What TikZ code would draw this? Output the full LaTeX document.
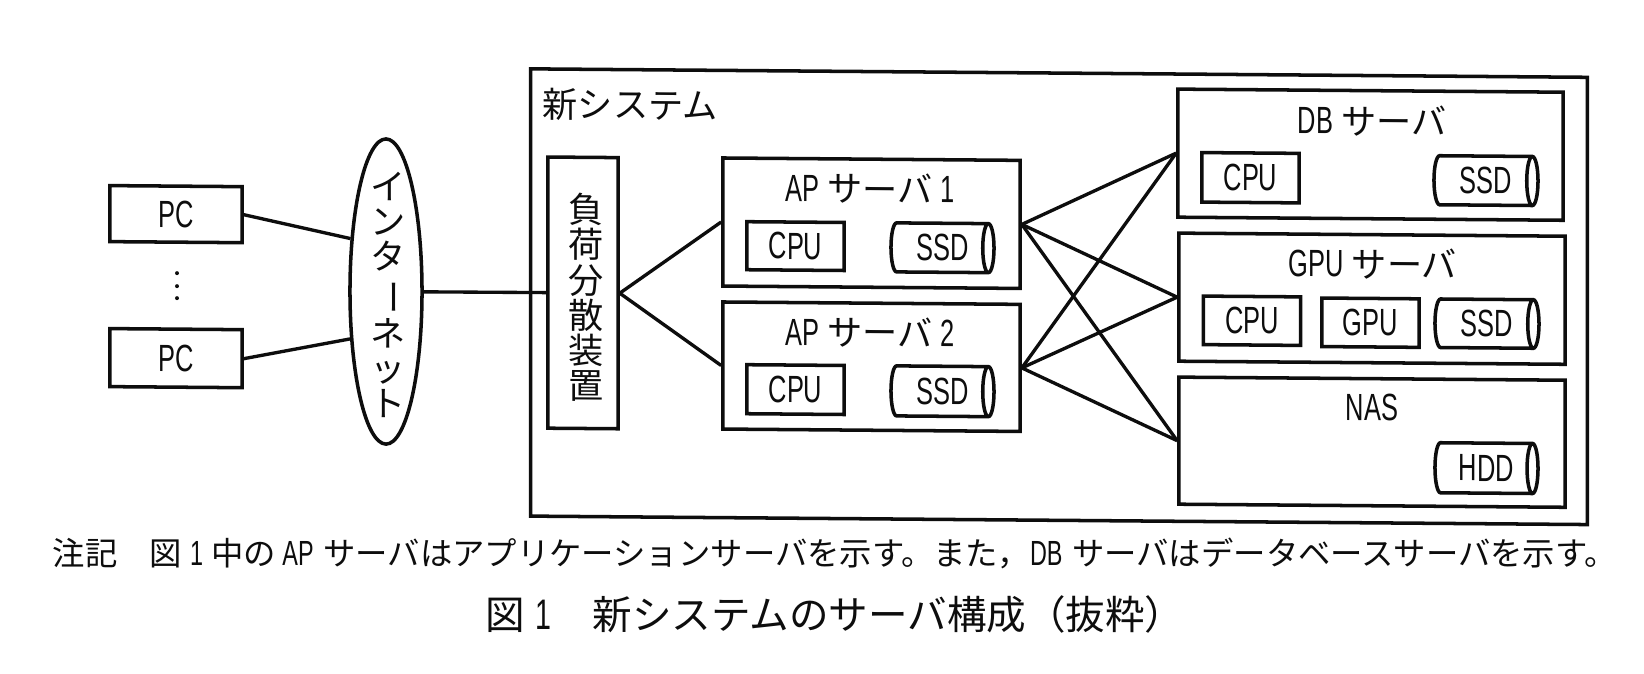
\documentclass[tikz,border=0pt]{standalone}
\usepackage{fontspec}
\usepackage{graphicx}
\usetikzlibrary{shapes.geometric}
\setmainfont{Noto Sans CJK JP}
\newfontfamily\latn[FakeStretch=0.67,Scale=1.08]{Liberation Sans}
\newcommand{\ltn}[1]{{\latn #1}}
\newcommand{\longbar}{\rotatebox[origin=c]{-90}{ー}}
\definecolor{ink}{gray}{0.05}
\tikzset{
  every node/.append style={transform shape,text=ink,inner sep=0pt},
  body/.style={font=\fontsize{10}{10}\selectfont},
  box/.style={rectangle,draw=ink,line width=1pt,body},
  store/.style={cylinder,draw=ink,line width=1pt,body,shape aspect=0.42,anchor=shape center,execute at begin node=\hspace*{2pt}},
  link/.style={draw=ink,line width=0.95pt},
  vtext/.style={body,align=center},
  ptdot/.style={circle,fill=ink,minimum size=0.04cm},
}
\begin{document}
\begin{tikzpicture}[x=0.01cm,y=-0.01cm]
\fill[white] (0,0) rectangle (1644,674);
\useasboundingbox (0,0) rectangle (1644,674);
\begin{scope}[shift={(0,-4.248)},cm={1,-0.008,0,1,(0,0)}]
\node[box,minimum width=10.56cm,minimum height=4.47cm] (sys) at (1059,292.5) {};
\node[body,anchor=west] (systitle) at (542,104) {新システム};
\node[box,minimum width=0.70cm,minimum height=2.71cm] (lb) at (583,292.5) {};
\node[vtext] (lbtext) at (586,297) {負\\荷\\分\\散\\装\\置};
\node[box,minimum width=2.97cm,minimum height=1.28cm] (ap1) at (871.5,220.5) {};
\node[box,minimum width=2.97cm,minimum height=1.27cm] (ap2) at (871.5,364) {};
\node[box,minimum width=3.85cm,minimum height=1.28cm] (db) at (1370.5,148) {};
\node[box,minimum width=3.86cm,minimum height=1.28cm] (gpusv) at (1372,292) {};
\node[box,minimum width=3.86cm,minimum height=1.27cm] (nas) at (1372,435.5) {};
\node[body] (ap1t) at (870,186) {\ltn{AP} サーバ \ltn{1}};
\node[body] (ap2t) at (870,329.5) {\ltn{AP} サーバ \ltn{2}};
\node[body] (dbt) at (1372,114) {\ltn{DB} サーバ};
\node[body] (gput) at (1373,257) {\ltn{GPU} サーバ};
\node[body] (nast) at (1372,401) {\ltn{NAS}};
\node[box,minimum width=0.97cm,minimum height=0.48cm] (cpua) at (795.5,244) {\ltn{CPU}};
\node[store,minimum width=0.49cm,minimum height=1.03cm] (ssda) at (942.5,244.5) {\ltn{SSD}};
\node[box,minimum width=0.97cm,minimum height=0.49cm] (cpub) at (795.5,387.5) {\ltn{CPU}};
\node[store,minimum width=0.50cm,minimum height=1.03cm] (ssdb) at (942.5,388) {\ltn{SSD}};
\node[box,minimum width=0.97cm,minimum height=0.495cm] (cpuc) at (1250.5,172) {\ltn{CPU}};
\node[store,minimum width=0.49cm,minimum height=1.04cm] (ssdc) at (1486,173) {\ltn{SSD}};
\node[box,minimum width=0.97cm,minimum height=0.485cm] (cpud) at (1252,315) {\ltn{CPU}};
\node[box,minimum width=0.97cm,minimum height=0.485cm] (gpud) at (1370.5,316) {\ltn{GPU}};
\node[store,minimum width=0.485cm,minimum height=1.04cm] (ssdd) at (1487,316) {\ltn{SSD}};
\node[store,minimum width=0.50cm,minimum height=1.03cm] (hdd) at (1486.5,460.5) {\ltn{HDD}};
\node[box,minimum width=1.32cm,minimum height=0.56cm] (pca) at (176,217) {\ltn{PC}};
\node[box,minimum width=1.32cm,minimum height=0.58cm] (pcb) at (176,361) {\ltn{PC}};
\node[ellipse,draw=ink,line width=1pt,minimum width=0.72cm,minimum height=3.05cm] (inet) at (386,292.7) {};
\node[vtext] (inettext) at (388,296) {イ\\ン\\タ\\\longbar\\ネ\\ッ\\ト};
\node[ptdot] (dota) at (177,276) {};
\node[ptdot] (dotb) at (177,289) {};
\node[ptdot] (dotc) at (177,301) {};
\draw[link] (pca.east) -- (inet.124);
\draw[link] (pcb.east) -- (inet.233);
\draw[link] (inet.east) -- (lb.west);
\draw[link] (lb.east) -- (ap1.west);
\draw[link] (lb.east) -- (ap2.west);
\draw[link] (ap1.east) -- (db.west);
\draw[link] (ap1.east) -- (gpusv.west);
\draw[link] (ap1.east) -- (nas.west);
\draw[link] (ap2.east) -- (db.west);
\draw[link] (ap2.east) -- (gpusv.west);
\draw[link] (ap2.east) -- (nas.west);
\end{scope}
\node[anchor=west,font=\fontsize{9.2}{10}\selectfont] (note) at (52,553) {注記　図\hspace{0.25em}\ltn{1}\hspace{0.25em}中の\hspace{0.2em}\ltn{AP}\hspace{0.3em}サーバはアプリケーションサーバを示す。また，\ltn{DB}\hspace{0.3em}サーバはデータベースサーバを示す。};
\node[anchor=west,font=\fontsize{11.25}{13}\selectfont] (caption) at (485,614) {図\hspace{0.25em}\ltn{1}\hspace{1.05em}新システムのサーバ構成（抜粋）};
\end{tikzpicture}
\end{document}
